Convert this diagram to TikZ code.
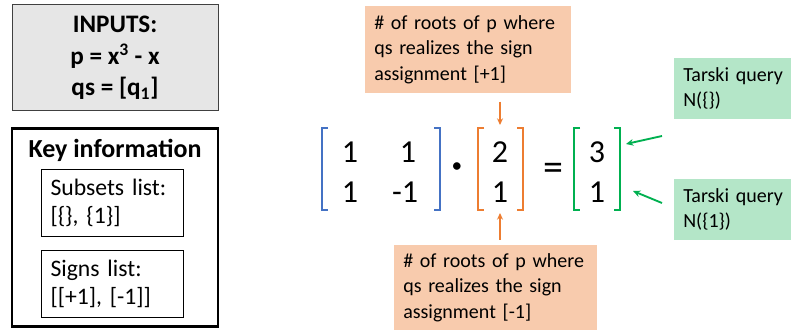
\documentclass[tikz,border=0pt]{standalone}
\usepackage{fontspec}
\setmainfont{Carlito}
\usetikzlibrary{arrows.meta}
\definecolor{mblue}{HTML}{4472C4}
\definecolor{morange}{HTML}{ED7D31}
\definecolor{mgreen}{HTML}{00B050}
\definecolor{peach}{HTML}{F8CBAD}
\definecolor{mint}{RGB}{180,230,200}
\definecolor{lgray}{HTML}{E6E6E6}

\begin{document}
\begin{tikzpicture}[
  x=0.75pt, y=-0.75pt,
  inputs/.style={draw=black!75, fill=lgray, line width=0.75pt, minimum width=154.5pt,
    minimum height=79.5pt, align=center, font=\fontsize{18.9}{23.5}\selectfont\bfseries},
  keybox/.style={draw=black, line width=2.2pt, minimum width=154.5pt, minimum height=149pt},
  keytitle/.style={font=\fontsize{19.5}{22}\selectfont\bfseries},
  listbox/.style={draw=black, line width=0.75pt, anchor=north west, text width=93pt,
    inner xsep=6.75pt, minimum height=50.25pt, align=left, font=\fontsize{17.75}{21.5}\selectfont},
  entry/.style={font=\fontsize{24}{28}\selectfont},
  note/.style={fill=peach, anchor=north west, align=left, inner xsep=6.75pt,
    font=\fontsize{15}{19}\selectfont},
  query/.style={fill=mint, anchor=north west, align=left, inner xsep=6.75pt,
    text width=80pt, minimum height=45.75pt, font=\fontsize{15}{19}\selectfont},
  bracket/.style={line width=2pt},
  oarrow/.style={-{Stealth[length=5pt,width=4.5pt]}, morange, line width=1.2pt},
  garrow/.style={-{Stealth[length=5.5pt,width=5pt]}, mgreen, line width=1.4pt},
]
\useasboundingbox (0,0) rectangle (791,334);

% Inputs
\node[inputs] (inputs) at (115,58) {INPUTS:\\p = x\textsuperscript{3} - x\\qs = [q\textsubscript{1}]};

% Key information
\node[keybox] (key) at (115,227.5) {};
\node[keytitle] (keytitle) at (115,150) {Key information};
\node[listbox] (subsets) at (41,169) {Subsets list:\\{}[\{\}, \{1\}]};
\node[listbox] (signs) at (41,250) {Signs list:\\{}[[+1], [-1]]};

% Brackets
\foreach \l/\r/\c in {322/440/mblue, 478/523/morange, 574/620/mgreen}{
  \draw[bracket, \c] (\l+6,128) -- (\l,128) -- (\l,210) -- (\l+6,210);
  \draw[bracket, \c] (\r-6,128) -- (\r,128) -- (\r,210) -- (\r-6,210);
}

% Matrix entries
\node[entry] (a11) at (350,152) {1};
\node[entry] (a12) at (408,152) {1};
\node[entry] (a21) at (350,192) {1};
\node[entry] (a22) at (405,192) {-1};
\node[entry, font=\fontsize{16}{18}\selectfont] (dot) at (457,168) {\textbullet};
\node[entry] (b1) at (500,152) {2};
\node[entry] (b2) at (500,192) {1};
\node[entry, font=\fontsize{30}{34}\selectfont] (eq) at (553,172) {=};
\node[entry] (c1) at (597,152) {3};
\node[entry] (c2) at (597,192) {1};

% Notes
\node[note, text width=141pt, minimum height=65.25pt] (noteTop) at (365,6)
  {\# of roots of p where\\qs realizes the sign\\assignment [+1]};
\node[note, text width=138.75pt, minimum height=63.75pt] (noteBot) at (394,245)
  {\# of roots of p where\\qs realizes the sign\\assignment [-1]};
\node[query] (qTop) at (674,58) {Tarski query\\N(\{\})};
\node[query] (qBot) at (674,179) {Tarski query\\N(\{1\})};

% Arrows
\coordinate (bTop) at (500,125);
\coordinate (bBot) at (500,213);
\draw[oarrow, shorten <=6pt] (noteTop.south -| bTop) -- (bTop);
\draw[oarrow, shorten <=3.75pt] (noteBot.north -| bBot) -- (bBot);
\coordinate (gA) at (662,136);
\coordinate (gB) at (626,144);
\coordinate (gC) at (662,203);
\coordinate (gD) at (633,191);
\draw[garrow] (gA) -- (gB);
\draw[garrow] (gC) -- (gD);

\end{tikzpicture}
\end{document}
